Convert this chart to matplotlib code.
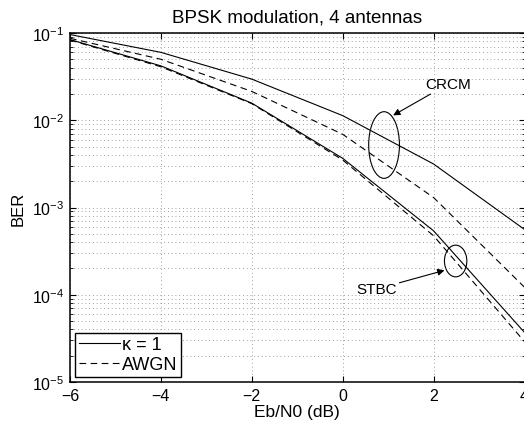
import matplotlib
matplotlib.use("Agg")
import matplotlib.pyplot as plt
from matplotlib.patches import Ellipse

plt.rcParams['font.family'] = ['Liberation Sans', 'DejaVu Sans']
plt.rcParams['mathtext.fontset'] = 'custom'
plt.rcParams['mathtext.rm'] = 'Liberation Sans'
plt.rcParams['mathtext.it'] = 'Liberation Sans:italic'

# Eb/N0 grid (dB)
ebn0 = [-6, -4, -2, 0, 2, 4]

# CRCM bit error rates
crcm_k1 = [0.096, 0.060, 0.0296, 0.0113, 0.00315, 0.00056]
crcm_awgn = [0.087, 0.050, 0.0214, 0.0069, 0.0013, 0.000122]

# STBC bit error rates
stbc_k1 = [0.084, 0.042, 0.0157, 0.00366, 0.00054, 0.000037]
stbc_awgn = [0.083, 0.041, 0.0155, 0.0035, 0.000474, 0.000029]

W, H = 524, 427
fig = plt.figure(figsize=(W / 100, H / 100), dpi=100)
ax = fig.add_axes([70 / W, (H - 383) / H, 454.5 / W, 349 / H])

lw = 0.8
l1, = ax.semilogy(ebn0, crcm_k1, 'k-', lw=lw)
l2, = ax.semilogy(ebn0, crcm_awgn, 'k--', lw=lw, dashes=(6, 4))
ax.semilogy(ebn0, stbc_k1, 'k-', lw=lw)
ax.semilogy(ebn0, stbc_awgn, 'k--', lw=lw, dashes=(6, 4))

ax.set_xlim(-6, 4)
ax.set_ylim(1e-5, 1e-1)
ax.set_xticks([-6, -4, -2, 0, 2, 4])
ax.set_xticklabels(['\u22126', '\u22124', '\u22122', '0', '2', '4'])

grid_style = dict(ls=(0, (1, 3.5)), color='0.5', lw=0.6)
ax.grid(True, which='major', axis='x', **grid_style)
ax.grid(True, which='both', axis='y', **grid_style)
ax.tick_params(which='both', direction='in', top=True, right=True,
               labelsize=11.5, pad=4)
ax.tick_params(which='major', length=4)
ax.tick_params(which='minor', length=2)
for s in ax.spines.values():
    s.set_linewidth(1.1)

ax.set_title('BPSK modulation, 4 antennas', fontsize=13.5, pad=8)
ax.set_xlabel('Eb/N0 (dB)', fontsize=12.5, labelpad=1)
ax.set_ylabel('BER', fontsize=12, labelpad=5)

# group markers
ax.add_patch(Ellipse((0.691, 0.679), 0.0677, 0.191, transform=ax.transAxes,
                     fill=False, ec='k', lw=0.8))
ax.add_patch(Ellipse((0.8485, 0.3467), 0.0492, 0.0908, transform=ax.transAxes,
                     fill=False, ec='k', lw=0.8))
ax.annotate('CRCM', xy=(0.711, 0.764), xytext=(0.831, 0.853),
            xycoords='axes fraction', textcoords='axes fraction',
            ha='center', va='center', fontsize=11,
            arrowprops=dict(arrowstyle='-|>', color='k', lw=0.8,
                            mutation_scale=10, shrinkA=0, shrinkB=0))
ax.annotate('STBC', xy=(0.824, 0.320), xytext=(0.674, 0.266),
            xycoords='axes fraction', textcoords='axes fraction',
            ha='center', va='center', fontsize=11,
            arrowprops=dict(arrowstyle='-|>', color='k', lw=0.8,
                            mutation_scale=10, shrinkA=0, shrinkB=0))

leg = ax.legend([l1, l2], ['\u03ba = 1', 'AWGN'], loc='lower left',
                bbox_to_anchor=(5.3 / 454.5, 5.3 / 349), borderaxespad=0,
                fontsize=13, fancybox=False, framealpha=1, edgecolor='k',
                handlelength=2.3, handletextpad=0.1, borderpad=0.2,
                labelspacing=0.15)
leg.get_frame().set_linewidth(1.0)

fig.savefig('out.png', dpi=100)
